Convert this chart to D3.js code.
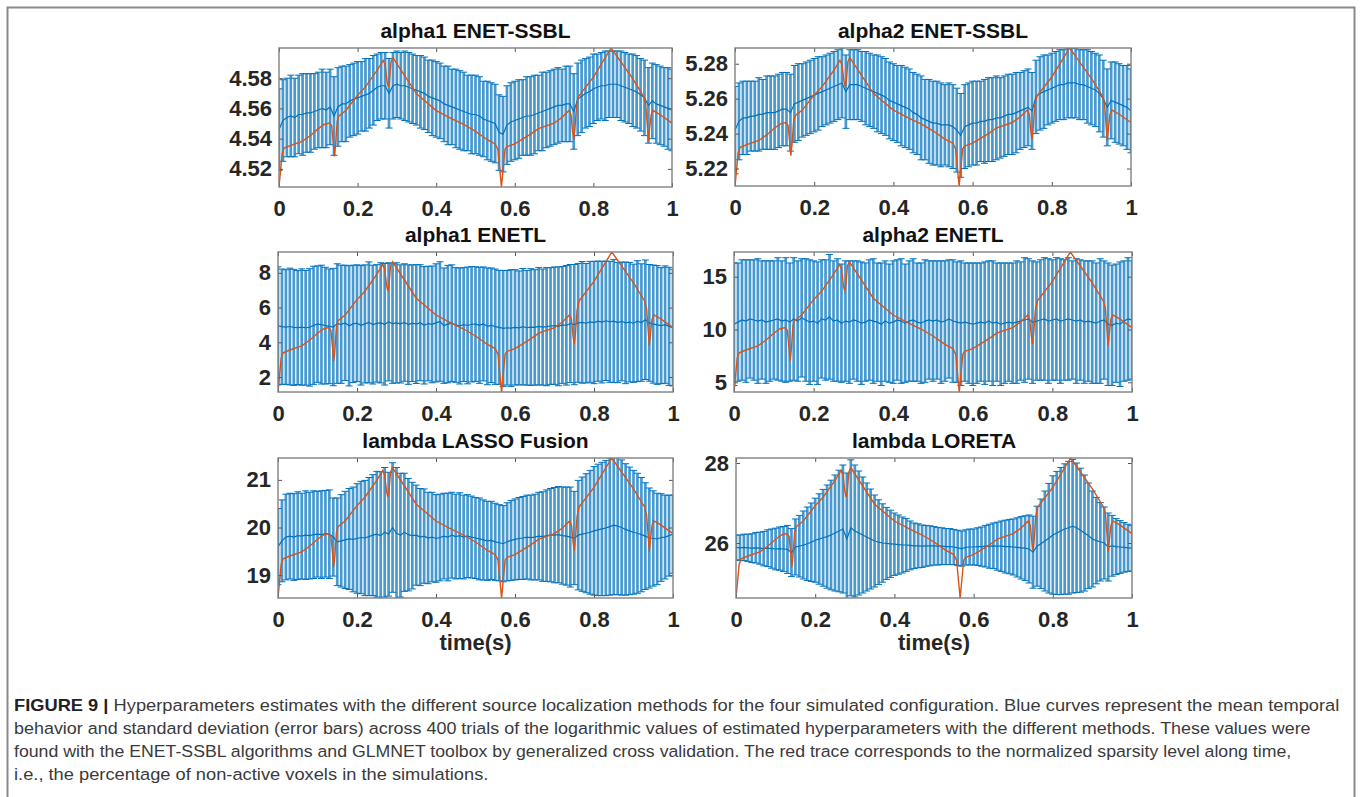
<!DOCTYPE html>
<html>
<head>
<meta charset="utf-8">
<script src="https://cdn.jsdelivr.net/npm/d3@7"></script>
<style>
  body { margin: 0; background: #fff; }
  svg { display: block; }
</style>
</head>
<body>
<svg id="fig" width="1360" height="797"></svg>
<script>
// sample times of the error bars (0..1 s, every 10 ms)
var tGrid = d3.range(0, 101).map(function(i){ return i / 100; });
var xTicks = [0, 0.2, 0.4, 0.6, 0.8, 1];

var titles = ["alpha1 ENET-SSBL", "alpha2 ENET-SSBL", "alpha1 ENETL", "alpha2 ENETL", "lambda LASSO Fusion", "lambda LORETA"];
var yDomains = [[4.508, 4.600], [5.210, 5.289], [1.14, 9.2], [4.08, 17.34], [18.52, 21.46], [24.625, 28.125]];
var yTicks = [[4.52, 4.54, 4.56, 4.58], [5.22, 5.24, 5.26, 5.28], [2, 4, 6, 8], [5, 10, 15], [19, 20, 21], [26, 28]];
var yFormats = [".2f", ".2f", "d", "d", "d", "d"];

// mean of the log hyperparameter (blue curve)
var mean1 = [4.546,4.552,4.554,4.555,4.554,4.556,4.556,4.557,4.557,4.558,
  4.559,4.560,4.559,4.561,4.555,4.561,4.563,4.563,4.565,4.566,
  4.567,4.568,4.569,4.570,4.572,4.574,4.575,4.575,4.570,4.575,
  4.576,4.575,4.575,4.574,4.573,4.572,4.571,4.570,4.568,4.567,
  4.566,4.565,4.563,4.562,4.561,4.560,4.559,4.558,4.557,4.556,
  4.556,4.555,4.553,4.552,4.551,4.550,4.544,4.543,4.549,4.551,
  4.552,4.553,4.554,4.555,4.555,4.556,4.557,4.558,4.559,4.560,
  4.561,4.562,4.562,4.563,4.563,4.558,4.566,4.568,4.570,4.571,
  4.573,4.574,4.575,4.575,4.576,4.576,4.576,4.575,4.574,4.573,
  4.572,4.571,4.569,4.567,4.562,4.565,4.563,4.562,4.561,4.560,4.559];
var sd1 = [.027,.027,.026,.027,.026,.026,.027,.026,.026,.025,
  .025,.026,.025,.025,.026,.026,.025,.025,.024,.024,
  .024,.023,.024,.023,.023,.022,.022,.022,.023,.022,
  .022,.022,.023,.023,.023,.023,.024,.024,.024,.025,
  .025,.025,.025,.026,.025,.026,.026,.026,.025,.026,
  .026,.026,.025,.026,.026,.026,.025,.025,.026,.026,
  .026,.026,.025,.026,.026,.026,.025,.026,.025,.025,
  .025,.025,.024,.025,.025,.025,.024,.024,.023,.023,
  .023,.022,.022,.023,.022,.022,.022,.023,.023,.023,
  .024,.024,.024,.025,.025,.025,.026,.026,.026,.027,.027];

var mean2 = [5.242,5.247,5.249,5.249,5.250,5.250,5.251,5.251,5.252,5.252,
  5.252,5.253,5.254,5.254,5.252,5.257,5.258,5.259,5.260,5.261,
  5.262,5.263,5.264,5.265,5.266,5.267,5.268,5.269,5.264,5.268,
  5.268,5.268,5.267,5.266,5.265,5.264,5.263,5.262,5.261,5.259,
  5.258,5.257,5.256,5.255,5.254,5.252,5.251,5.249,5.248,5.247,
  5.246,5.246,5.245,5.245,5.245,5.244,5.242,5.239,5.244,5.245,
  5.246,5.246,5.247,5.247,5.248,5.248,5.249,5.249,5.250,5.251,
  5.251,5.252,5.253,5.254,5.255,5.253,5.261,5.263,5.264,5.265,
  5.266,5.267,5.268,5.268,5.269,5.269,5.269,5.268,5.268,5.267,
  5.266,5.265,5.263,5.260,5.255,5.259,5.258,5.257,5.256,5.255,5.253];
var sd2 = [.025,.022,.021,.021,.020,.020,.021,.020,.021,.021,
  .021,.021,.021,.021,.022,.022,.022,.021,.021,.021,
  .021,.021,.020,.020,.020,.020,.020,.020,.021,.020,
  .020,.020,.020,.021,.021,.021,.022,.022,.022,.022,
  .022,.022,.023,.023,.023,.023,.023,.024,.023,.024,
  .024,.024,.024,.023,.024,.024,.024,.024,.024,.024,
  .024,.024,.023,.024,.024,.024,.024,.023,.023,.023,
  .023,.023,.022,.022,.022,.022,.021,.021,.021,.020,
  .020,.020,.020,.020,.020,.020,.020,.020,.020,.021,
  .021,.021,.022,.022,.022,.022,.023,.023,.023,.024,.024];

var mean3 = [4.95,4.90,4.88,4.91,4.86,4.85,4.88,4.84,4.86,4.98,
  5.05,5.02,4.96,4.92,4.88,5.08,5.04,5.12,4.95,5.06,
  5.10,4.98,5.06,5.15,5.02,5.09,5.12,5.04,5.18,5.08,
  5.12,5.06,5.14,5.02,5.10,5.05,5.13,4.98,5.08,5.03,
  5.12,5.20,4.96,5.05,5.10,5.00,4.94,5.02,4.97,5.04,
  5.05,4.98,5.06,4.92,4.98,4.90,4.86,4.80,4.84,4.82,
  4.86,4.83,4.90,4.84,4.88,4.86,4.92,4.88,4.90,4.94,
  4.96,4.92,5.00,4.98,5.08,5.02,5.12,5.15,5.10,5.18,
  5.14,5.22,5.16,5.24,5.18,5.22,5.14,5.20,5.12,5.16,
  5.10,5.22,5.14,5.30,5.12,5.05,5.00,4.96,5.02,4.92,4.85];
var sd3 = [3.40,3.32,3.30,3.36,3.34,3.28,3.35,3.30,3.38,3.40,
  3.35,3.42,3.36,3.30,3.38,3.44,3.40,3.32,3.46,3.38,
  3.36,3.44,3.40,3.48,3.42,3.38,3.46,3.50,3.40,3.44,
  3.46,3.40,3.38,3.44,3.36,3.42,3.34,3.38,3.30,3.36,
  3.40,3.44,3.32,3.38,3.36,3.30,3.34,3.28,3.36,3.32,
  3.30,3.34,3.28,3.36,3.30,3.32,3.28,3.34,3.30,3.36,
  3.32,3.28,3.35,3.30,3.36,3.32,3.38,3.34,3.40,3.36,
  3.38,3.42,3.36,3.44,3.40,3.46,3.42,3.50,3.44,3.48,
  3.52,3.46,3.50,3.44,3.48,3.54,3.46,3.42,3.50,3.44,
  3.40,3.48,3.38,3.44,3.36,3.40,3.42,3.34,3.38,3.40,3.36];

var mean4 = [10.5,10.7,10.9,10.8,11.0,10.9,10.8,10.9,10.7,10.8,
  10.9,11.0,10.8,10.9,10.7,11.0,10.8,11.1,10.9,10.7,
  10.8,10.6,11.0,10.9,11.2,10.8,10.9,10.6,10.8,10.7,
  10.9,10.8,10.6,10.7,10.9,10.8,10.7,10.5,10.8,10.6,
  10.7,10.9,10.8,10.6,10.8,10.9,10.7,10.6,10.8,10.9,
  10.8,10.9,10.7,10.8,11.0,10.8,10.7,10.6,10.7,10.6,
  10.5,10.6,10.7,10.6,10.8,10.6,10.7,10.5,10.6,10.7,
  10.6,10.7,10.8,10.9,11.0,10.7,10.8,10.9,11.0,10.8,
  10.9,11.0,10.8,10.9,11.0,10.9,10.8,10.9,10.7,10.8,
  10.7,10.6,10.8,10.9,10.5,10.4,10.6,10.5,10.8,11.0,10.9];
var sd4 = [5.8,5.6,5.7,5.8,5.6,5.7,5.9,5.6,5.8,5.7,
  5.6,5.8,5.7,5.9,5.6,5.8,5.7,5.6,5.8,5.9,
  5.7,5.8,5.6,5.7,5.9,5.7,5.8,5.6,5.7,5.8,
  5.6,5.7,5.8,5.6,5.7,5.9,5.6,5.8,5.7,5.6,
  5.8,5.7,5.9,5.6,5.7,5.8,5.6,5.7,5.8,5.6,
  5.7,5.6,5.8,5.7,5.6,5.8,5.7,5.9,5.6,5.7,
  5.8,5.7,5.6,5.8,5.7,5.9,5.6,5.8,5.7,5.6,
  5.7,5.8,5.6,5.9,5.7,5.8,5.6,5.7,5.8,5.9,
  5.7,5.8,5.9,5.7,5.8,5.6,5.9,5.7,5.8,5.7,
  5.8,5.7,5.9,5.6,5.8,5.7,5.6,5.9,5.7,5.8,5.6];

var mean5 = [19.60,19.72,19.80,19.82,19.80,19.83,19.82,19.84,19.83,19.85,
  19.86,19.85,19.87,19.86,19.80,19.70,19.72,19.74,19.76,19.75,
  19.77,19.79,19.78,19.81,19.84,19.86,19.83,19.90,19.86,20.00,
  19.88,19.84,19.90,19.85,19.83,19.84,19.80,19.82,19.78,19.80,
  19.77,19.79,19.82,19.80,19.84,19.81,19.83,19.80,19.82,19.80,
  19.78,19.76,19.74,19.72,19.73,19.70,19.68,19.66,19.70,19.73,
  19.75,19.77,19.78,19.80,19.79,19.80,19.82,19.81,19.83,19.84,
  19.84,19.85,19.83,19.82,19.80,19.78,19.84,19.86,19.88,19.90,
  19.93,19.95,19.97,19.99,20.02,20.05,20.03,20.00,19.96,19.93,
  19.90,19.88,19.85,19.82,19.78,19.77,19.76,19.79,19.80,19.83,19.86];
var sd5 = [0.80,0.86,0.90,0.90,0.91,0.92,0.90,0.93,0.91,0.92,
  0.90,0.92,0.91,0.93,0.82,0.92,0.97,1.02,1.06,1.10,
  1.15,1.18,1.21,1.24,1.27,1.32,1.34,1.36,1.30,1.36,
  1.38,1.30,1.24,1.18,1.12,1.05,1.02,0.99,0.96,0.94,
  0.92,0.91,0.90,0.92,0.90,0.89,0.90,0.88,0.87,0.86,
  0.85,0.86,0.84,0.83,0.82,0.81,0.80,0.80,0.82,0.84,
  0.85,0.86,0.87,0.88,0.89,0.90,0.92,0.94,0.96,0.98,
  1.00,1.01,1.02,1.03,1.05,0.98,1.15,1.20,1.25,1.30,
  1.35,1.38,1.40,1.42,1.44,1.46,1.44,1.42,1.38,1.34,
  1.30,1.26,1.20,1.12,1.05,1.00,0.96,0.92,0.88,0.85,0.82];

var mean6 = [25.89,25.88,25.89,25.88,25.87,25.88,25.87,25.86,25.87,25.86,
  25.85,25.86,25.85,25.84,25.76,25.90,25.92,25.95,25.98,26.02,
  26.07,26.10,26.13,26.16,26.20,26.25,26.30,26.35,26.10,26.38,
  26.30,26.25,26.20,26.15,26.10,26.05,26.02,26.00,25.99,25.98,
  25.97,25.96,25.95,25.95,25.94,25.93,25.93,25.92,25.93,25.93,
  25.93,25.92,25.92,25.91,25.91,25.90,25.88,25.86,25.89,25.90,
  25.90,25.91,25.91,25.92,25.92,25.93,25.92,25.92,25.91,25.91,
  25.90,25.89,25.88,25.87,25.85,25.77,25.92,25.98,26.05,26.12,
  26.20,26.25,26.30,26.35,26.38,26.42,26.38,26.32,26.25,26.18,
  26.10,26.06,26.03,26.00,25.90,25.93,25.91,25.90,25.89,25.88,25.87];
var sd6 = [0.31,0.32,0.33,0.34,0.36,0.38,0.40,0.43,0.46,0.49,
  0.52,0.54,0.56,0.60,0.60,0.70,0.77,0.85,0.92,0.98,
  1.05,1.13,1.21,1.29,1.37,1.45,1.52,1.60,1.65,1.70,
  1.65,1.55,1.45,1.35,1.25,1.15,1.06,0.98,0.90,0.84,
  0.78,0.74,0.70,0.66,0.61,0.57,0.55,0.53,0.51,0.50,
  0.48,0.47,0.46,0.45,0.45,0.44,0.44,0.44,0.44,0.45,
  0.45,0.47,0.49,0.52,0.55,0.57,0.60,0.63,0.66,0.68,
  0.70,0.74,0.78,0.81,0.85,0.90,1.00,1.12,1.25,1.37,
  1.48,1.54,1.59,1.63,1.66,1.67,1.62,1.55,1.45,1.32,
  1.20,1.08,0.98,0.90,0.85,0.76,0.70,0.66,0.62,0.59,0.57];

// normalized sparsity level (red trace), drawn over each panel's full y range
var redT = [0,0.004,0.008,0.013,0.03,0.06,0.08,0.1,0.115,0.128,0.134,0.138,0.141,0.144,0.148,0.152,
  0.17,0.2,0.22,0.25,0.265,0.27,0.275,0.278,0.281,0.285,0.29,0.32,0.35,0.4,0.44,0.47,0.5,0.53,
  0.55,0.557,0.562,0.566,0.57,0.575,0.58,0.6,0.64,0.66,0.7,0.72,0.738,0.743,0.747,0.75,0.753,
  0.757,0.762,0.8,0.845,0.87,0.9,0.928,0.933,0.937,0.94,0.943,0.947,0.952,0.97,1.0];
var redN = [0,0.12,0.24,0.28,0.30,0.33,0.37,0.42,0.45,0.46,0.44,0.32,0.22,0.30,0.47,0.51,
  0.55,0.66,0.72,0.84,0.91,0.88,0.76,0.72,0.76,0.90,0.93,0.80,0.67,0.55,0.49,0.45,0.40,0.34,
  0.31,0.27,0.12,0,0.12,0.27,0.29,0.31,0.38,0.42,0.46,0.50,0.55,0.52,0.40,0.34,0.42,
  0.58,0.65,0.79,1.0,0.90,0.78,0.65,0.60,0.45,0.33,0.42,0.52,0.55,0.52,0.46];

var means = [mean1, mean2, mean3, mean4, mean5, mean6];
var sds = [sd1, sd2, sd3, sd4, sd5, sd6];

// layout of the 6 axes boxes (left, right, top, bottom)
var boxes = [
  [279, 672, 48, 187], [735, 1131, 48, 186],
  [278, 673, 252, 392], [734, 1132, 252, 392],
  [278, 673, 458, 598], [736, 1132, 458, 598]
];

var blue = "#0072BD", red = "#D95319";
var svg = d3.select("#fig");
var font = "'Liberation Sans', Arial, Helvetica, sans-serif";

// outer frame
svg.append("rect").attr("x", 7.5).attr("y", 7.5).attr("width", 1347).attr("height", 800)
  .attr("fill", "none").attr("stroke", "#8a8a8a").attr("stroke-width", 2);

boxes.forEach(function(b, i) {
  var x = d3.scaleLinear().domain([0, 1]).range([b[0], b[1]]);
  var y = d3.scaleLinear().domain(yDomains[i]).range([b[3], b[2]]);
  var yr = d3.scaleLinear().domain([0, 1]).range([b[3], b[2]]);
  var g = svg.append("g");

  g.append("clipPath").attr("id", "clip" + i).append("rect")
    .attr("x", b[0]).attr("y", b[2]).attr("width", b[1] - b[0]).attr("height", b[3] - b[2]);

  var pts = tGrid.map(function(t, j){ return {t: t, m: means[i][j], s: sds[i][j]}; });
  var plot = g.append("g").attr("clip-path", "url(#clip" + i + ")");

  // error bar stems
  plot.selectAll("line.stem").data(pts).enter().append("line")
    .attr("x1", function(d){ return x(d.t); }).attr("x2", function(d){ return x(d.t); })
    .attr("y1", function(d){ return y(d.m - d.s); }).attr("y2", function(d){ return y(d.m + d.s); })
    .attr("stroke", blue).attr("stroke-opacity", 0.72).attr("stroke-width", 2.7);
  // caps
  [1, -1].forEach(function(sg) {
    plot.selectAll("line.cap" + sg).data(pts).enter().append("line")
      .attr("x1", function(d){ return x(d.t) - 3.5; }).attr("x2", function(d){ return x(d.t) + 3.5; })
      .attr("y1", function(d){ return y(d.m + sg * d.s); }).attr("y2", function(d){ return y(d.m + sg * d.s); })
      .attr("stroke", blue).attr("stroke-width", 1);
  });
  // mean curve
  plot.append("path").datum(pts)
    .attr("d", d3.line().x(function(d){ return x(d.t); }).y(function(d){ return y(d.m); }))
    .attr("fill", "none").attr("stroke", blue).attr("stroke-width", 1.2);
  // red sparsity trace
  plot.append("path").datum(d3.zip(redT, redN))
    .attr("d", d3.line().x(function(d){ return x(d[0]); }).y(function(d){ return yr(d[1]); }))
    .attr("fill", "none").attr("stroke", red).attr("stroke-width", 1.4);

  // axes
  var fmtY = d3.format(yFormats[i]);
  var ax = [
    g.append("g").attr("transform", "translate(0," + b[3] + ")")
      .call(d3.axisBottom(x).tickValues(xTicks).tickFormat(d3.format("~g")).tickSize(-4).tickPadding(13)),
    g.append("g").attr("transform", "translate(" + b[0] + ",0)")
      .call(d3.axisLeft(y).tickValues(yTicks[i]).tickFormat(fmtY).tickSize(-4).tickPadding(7)),
    g.append("g").attr("transform", "translate(0," + b[2] + ")")
      .call(d3.axisTop(x).tickValues(xTicks).tickFormat("").tickSize(-4)),
    g.append("g").attr("transform", "translate(" + b[1] + ",0)")
      .call(d3.axisRight(y).tickValues(yTicks[i]).tickFormat("").tickSize(-4))
  ];
  ax.forEach(function(a) {
    a.select(".domain").remove();
    a.selectAll("line").attr("stroke", "#555");
    a.selectAll("text").attr("font-family", font).attr("font-size", 22)
      .attr("font-weight", "bold").attr("fill", "#262626");
  });
  g.append("rect").attr("x", b[0]).attr("y", b[2]).attr("width", b[1] - b[0]).attr("height", b[3] - b[2])
    .attr("fill", "none").attr("stroke", "#808080").attr("stroke-width", 1.4);

  g.append("text").attr("x", (b[0] + b[1]) / 2).attr("y", b[2] - 10)
    .attr("text-anchor", "middle").attr("font-family", font).attr("font-size", 21)
    .attr("font-weight", "bold").attr("fill", "#111").text(titles[i]);

  if (i >= 4) {
    g.append("text").attr("x", (b[0] + b[1]) / 2).attr("y", b[3] + 52)
      .attr("text-anchor", "middle").attr("font-family", font).attr("font-size", 22)
      .attr("font-weight", "bold").attr("fill", "#262626").text("time(s)");
  }
});

// caption
var capLines = [
  "Hyperparameters estimates with the different source localization methods for the four simulated configuration. Blue curves represent the mean temporal",
  "behavior and standard deviation (error bars) across 400 trials of the logarithmic values of estimated hyperparameters with the different methods. These values were",
  "found with the ENET-SSBL algorithms and GLMNET toolbox by generalized cross validation. The red trace corresponds to the normalized sparsity level along time,",
  "i.e., the percentage of non-active voxels in the simulations."
];
var capEnds = [1340, 1312, 1292, null];
var capText = capLines.map(function(s, k) {
  var t = svg.append("text").attr("font-family", font).attr("font-size", 16.5).attr("fill", "#3a3a3a");
  if (k === 0) t.append("tspan").attr("font-weight", "bold").attr("fill", "#222").text("FIGURE 9 | ");
  t.append("tspan").text(s);
  return t;
});
// the printed caption font is narrower: squeeze each full line to its printed width,
// the short last line by the same factor as the first one
var sx0 = (capEnds[0] - 14) / capText[0].node().getComputedTextLength();
capText.forEach(function(t, k) {
  var sx = capEnds[k] ? (capEnds[k] - 14) / t.node().getComputedTextLength() : sx0;
  t.attr("transform", "translate(14," + (711 + k * 23) + ") scale(" + sx + ",1)");
});
</script>
</body>
</html>
